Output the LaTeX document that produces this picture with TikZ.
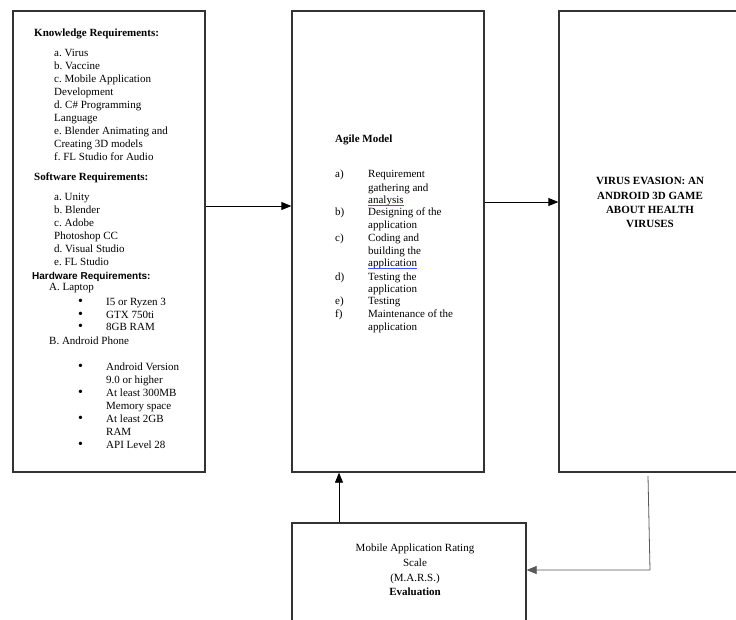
\documentclass[tikz,border=0pt]{standalone}
\usepackage{fontspec}
\setmainfont{Liberation Serif}
\newfontfamily\hwfont{Liberation Sans}
\usetikzlibrary{arrows.meta}
\frenchspacing
\begin{document}
\begin{tikzpicture}[x=1pt,y=-1pt,
 box/.style={draw=black!80, line width=1.3pt, rectangle, inner sep=0pt},
 txt/.style={anchor=base west, inner sep=0pt, font=\fontsize{11}{13}\selectfont},
 ctxt/.style={anchor=base, inner sep=0pt, font=\fontsize{11}{13}\selectfont},
 btxt/.style={anchor=base west, inner sep=0pt, font=\fontsize{11}{13}\selectfont\bfseries},
 bul/.style={anchor=base west, inner sep=0pt, font=\fontsize{14}{13}\selectfont},
 arr/.style={line width=0.8pt, -{Triangle[length=10pt,width=8pt]}},
 spell/.style={draw=blue!70, line width=0.6pt}]
\useasboundingbox (0,0) rectangle (736,619);
\clip (0,0) rectangle (736,619);
\fill[white] (0,0) rectangle (736,619);

% boxes
\node[box, minimum width=192, minimum height=461] (L) at (109,241.5) {};
\node[box, minimum width=192, minimum height=461] (M) at (388,241.5) {};
\node[box, minimum width=182, minimum height=461] (R) at (650,241.5) {};
\node[box, minimum width=234, minimum height=120] (B) at (409,583) {};

% left box: knowledge
\node[btxt] (kh) at (34,36.5) {Knowledge Requirements:};
\foreach \t [count=\i] in {a. Virus, b. Vaccine, c. Mobile Application, Development, d. C\# Programming, Language, e. Blender Animating and, Creating 3D models, f. FL Studio for Audio}
  \node[txt] (k\i) at (54,{56+13.1*(\i-1)}) {\t};

% software
\node[btxt] (sh) at (34,180.5) {Software Requirements:};
\foreach \t [count=\i] in {a. Unity, b. Blender, c. Adobe, Photoshop CC, d. Visual Studio, e. FL Studio}
  \node[txt] (s\i) at (54,{200.5+13*(\i-1)}) {\t};

% hardware
\node[anchor=base west, inner sep=0pt, font=\hwfont\fontsize{10}{13}\selectfont\bfseries] (hh) at (32,279.5) {Hardware Requirements:};
\node[txt] (ha) at (49,290.5) {A. Laptop};
\foreach \t/\y [count=\i] in {I5 or Ryzen 3/305.5, GTX 750ti/318, 8GB RAM/330.5}{
  \node[bul] (hlb\i) at (78,\y) {\textbullet};
  \node[txt] (hl\i) at (106,\y) {\t};
}
\node[txt] (hb) at (49,344.5) {B. Android Phone};
\foreach \t/\y [count=\i] in {Android Version/370.5, At least 300MB/396.5, At least 2GB/422.5, API Level 28/448}{
  \node[bul] (hpb\i) at (78,\y) {\textbullet};
  \node[txt] (hp\i) at (106,\y) {\t};
}
\node[txt] (hp1b) at (106,383) {9.0 or higher};
\node[txt] (hp2b) at (106,409.5) {Memory space};
\node[txt] (hp3b) at (106,435.5) {RAM};

% middle box: agile
\node[btxt] (ag) at (335,142.5) {Agile Model};
\foreach \t/\y [count=\i] in {Requirement/177.5, gathering and/191.5, analysis/203.5, Designing of the/215.5, application/228.5, Coding and/241.5, building the/254.5, application/266.5, Testing the/280.5, application/292.5, Testing/304.5, Maintenance of the/317.5, application/330.5}
  \node[txt] (ag\i) at (368,\y) {\t};
\node[txt] (la) at (335,177.5) {a)};
\node[txt] (lb) at (335,215.5) {b)};
\node[txt] (lc) at (335,241.5) {c)};
\node[txt] (ld) at (335,280.5) {d)};
\node[txt] (le) at (335,304.5) {e)};
\node[txt] (lf) at (335,317.5) {f)};
\draw[spell] ([yshift=-2.2pt]ag3.base west) -- ([yshift=-2.2pt]ag3.base east);
\draw[spell] ([yshift=-2.2pt]ag8.base west) -- ([yshift=-2.2pt]ag8.base east);

% right box
\foreach \t/\y [count=\i] in {VIRUS EVASION: AN/184.5, ANDROID 3D GAME/199.5, ABOUT HEALTH/213.5, VIRUSES/227.5}
  \node[ctxt, font=\fontsize{11}{13}\selectfont\bfseries] (r\i) at (650,\y) {\t};

% bottom box
\node[ctxt] (b1) at (415,551.5) {Mobile Application Rating};
\node[ctxt] (b2) at (415,566.5) {Scale};
\node[ctxt] (b3) at (415,581.5) {(M.A.R.S.)};
\node[ctxt, font=\fontsize{11}{13}\selectfont\bfseries] (b4) at (415,595.5) {Evaluation};

% connectors
\coordinate (y1) at (0,206);
\coordinate (y2) at (0,202);
\coordinate (vx) at (339,0);
\coordinate (c1) at (648,476);
\coordinate (c2) at (650,570);
\draw[arr] (L.east |- y1) -- (M.west |- y1);
\draw[arr] (M.east |- y2) -- (R.west |- y2);
\draw[arr] (B.north -| vx) -- (M.south -| vx);
\draw[arr, draw=black!65] (c1) -- (c2) -- (B.east |- c2);
\end{tikzpicture}
\end{document}
